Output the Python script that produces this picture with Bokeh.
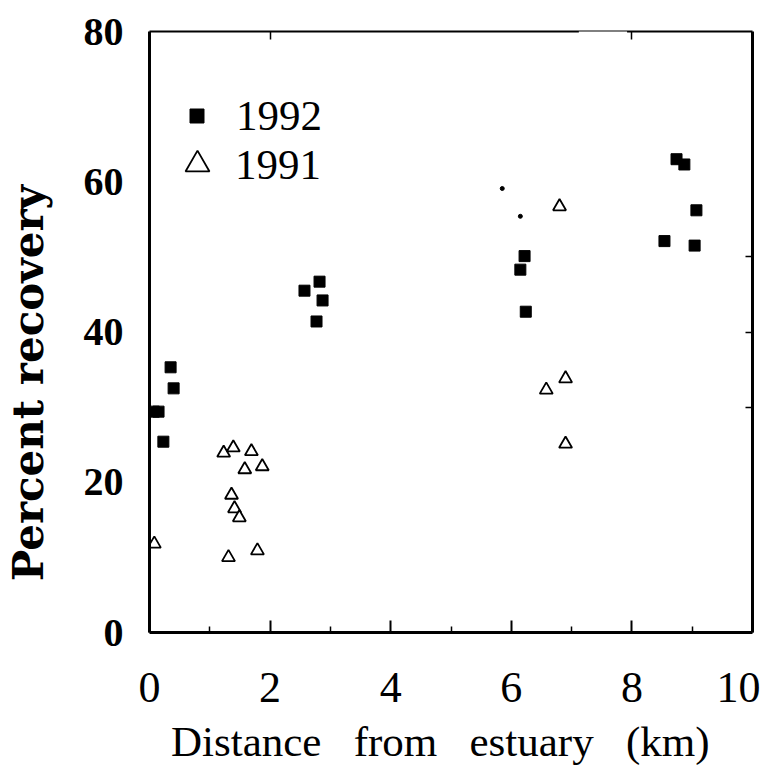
from bokeh.plotting import figure
from bokeh.models import Range1d, FixedTicker, LinearAxis, Legend, LegendItem, BoxAnnotation
from bokeh.embed import file_html
from bokeh.resources import INLINE

# ---- data ----
x_1992 = [0.07, 0.15, 0.23, 0.35, 0.40, 2.57, 2.82, 2.87, 2.77, 6.22, 6.15, 6.24, 8.74, 8.87, 9.07, 8.54, 9.04]
y_1992 = [29.4, 29.4, 25.4, 35.3, 32.5, 45.5, 46.7, 44.2, 41.4, 50.1, 48.3, 42.7, 63.0, 62.3, 56.2, 52.1, 51.5]

x_1991 = [1.23, 1.39, 1.69, 1.58, 1.87, 1.36, 1.41, 1.49, 0.08, 1.79, 1.31, 6.80, 6.90, 6.58, 6.90]
y_1991 = [23.9, 24.6, 24.1, 21.7, 22.1, 18.3, 16.5, 15.3, 11.8, 10.9, 10.0, 56.7, 33.8, 32.3, 25.1]

x_dots = [5.85, 6.15]
y_dots = [59.1, 55.4]

x_ticks = [0, 2, 4, 6, 8, 10]
x_minor = [1, 3, 5, 7, 9]
y_ticks = [0, 20, 40, 60, 80]
right_ticks = [30, 40, 50]
top_ticks = [2, 8]

p = figure(frame_width=603, frame_height=601, output_backend="svg", toolbar_location=None,
           x_range=Range1d(0, 10), y_range=Range1d(0, 80),
           min_border_left=144, min_border_right=8, min_border_top=31, min_border_bottom=0)
p.outline_line_color = None
p.grid.visible = False
p.background_fill_color = "white"
p.border_fill_color = "white"

# bottom axis
xa = p.xaxis[0]
xa.ticker = FixedTicker(ticks=x_ticks, minor_ticks=x_minor)
xa.axis_line_width = 3
xa.axis_line_color = "black"
xa.major_tick_in = 12
xa.major_tick_out = 0
xa.minor_tick_in = 6
xa.minor_tick_out = 0
xa.major_tick_line_width = 2
xa.minor_tick_line_width = 1.5
xa.major_label_text_font = "Liberation Serif"
xa.major_label_text_font_size = "44px"
xa.major_label_text_color = "black"
xa.major_label_standoff = 40
xa.axis_label = "Distance\u00a0\u00a0 from\u00a0\u00a0 estuary\u00a0\u00a0 (km)\u00a0\u00a0"
xa.axis_label_text_font = "Liberation Serif"
xa.axis_label_text_font_size = "43px"
xa.axis_label_text_font_style = "normal"
xa.axis_label_text_color = "black"
xa.axis_label_standoff = 13

# left axis
ya = p.yaxis[0]
ya.ticker = FixedTicker(ticks=y_ticks)
ya.axis_line_width = 3
ya.axis_line_color = "black"
ya.major_tick_in = 0
ya.major_tick_out = 0
ya.minor_tick_in = 0
ya.minor_tick_out = 0
ya.major_label_text_font = "Liberation Serif"
ya.major_label_text_font_style = "bold"
ya.major_label_text_font_size = "40px"
ya.major_label_text_color = "black"
ya.major_label_standoff = 26
ya.axis_label = "Percent recovery" + "\u00a0" * 7
ya.axis_label_text_font = "DejaVu Serif"
ya.axis_label_text_font_style = "bold"
ya.axis_label_text_font_size = "42px"
ya.axis_label_text_color = "black"
ya.axis_label_standoff = 28

# right border with a few inward ticks (minor ticks only, no labels)
ra = LinearAxis(ticker=FixedTicker(ticks=[], minor_ticks=right_ticks), major_tick_in=0, major_tick_out=0,
                minor_tick_in=7, minor_tick_out=0, minor_tick_line_width=1.5, axis_line_width=3)
p.add_layout(ra, "right")

# top border with inward ticks
ta = LinearAxis(ticker=FixedTicker(ticks=[], minor_ticks=top_ticks), major_tick_in=0, major_tick_out=0,
                minor_tick_in=8, minor_tick_out=0, minor_tick_line_width=1.5, axis_line_width=2)
p.add_layout(ta, "above")

# gap in the top border
p.add_layout(BoxAnnotation(left=7.12, right=7.92, bottom=79.4, top=81.0,
                           fill_color="white", fill_alpha=1.0, line_alpha=0))

r92 = p.scatter(x_1992, y_1992, marker="square", size=11, fill_color="black", line_color="black", line_width=1)
r91 = p.scatter(x_1991, y_1991, marker="triangle", size=13, fill_color="white", line_color="black", line_width=1.8)
p.scatter(x_dots, y_dots, marker="circle", size=4, fill_color="black", line_color="black")

leg1 = Legend(items=[LegendItem(label="1992", renderers=[r92])], location=(30, 492),
              glyph_width=35, glyph_height=35, label_standoff=22,
              label_text_font="Liberation Serif", label_text_font_size="43px", label_text_color="black",
              padding=0, margin=0, border_line_alpha=0, background_fill_alpha=0)
leg2 = Legend(items=[LegendItem(label="1991", renderers=[r91])], location=(18, 438),
              glyph_width=60, glyph_height=60, label_standoff=8,
              label_text_font="Liberation Serif", label_text_font_size="43px", label_text_color="black",
              padding=0, margin=0, border_line_alpha=0, background_fill_alpha=0)
p.add_layout(leg1)
p.add_layout(leg2)

open("out.html", "w").write(file_html(p, INLINE))
